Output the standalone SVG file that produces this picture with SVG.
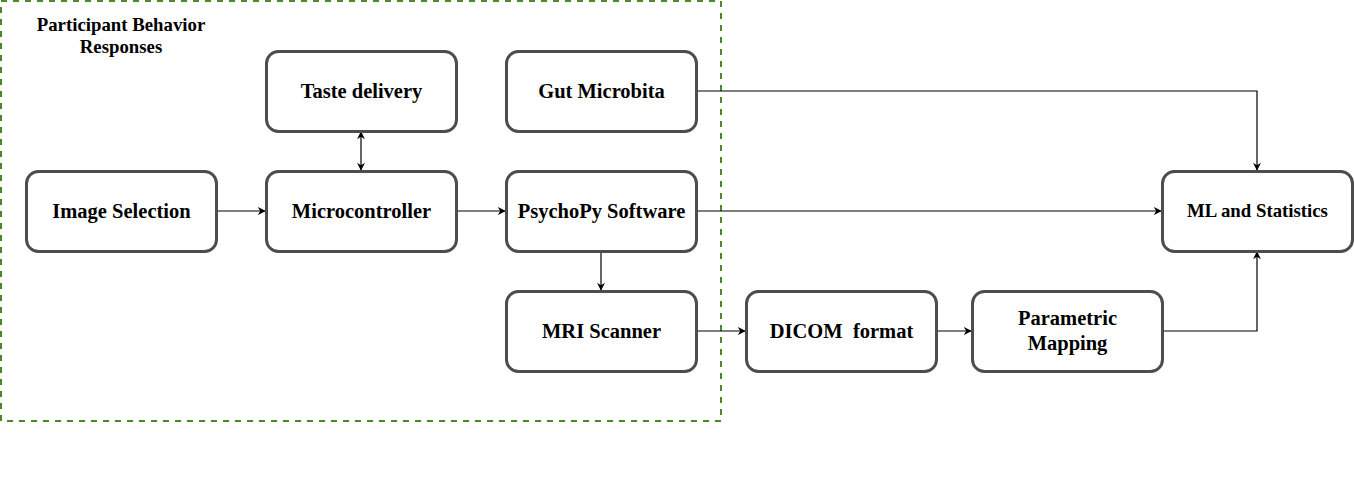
<svg xmlns="http://www.w3.org/2000/svg" width="1354" height="480" viewBox="0 0 1354 480">
<defs>
<style>
.box{fill:#ffffff;stroke:#4d4d4d;stroke-width:3}
.lbl{font-family:"Liberation Serif","Times New Roman",serif;font-weight:bold;font-size:20.5px;fill:#000;text-anchor:middle}
.sm{font-size:18.8px}
.ttl{font-size:18.8px}
.edge{fill:none;stroke:#000;stroke-width:1.2}
</style>
<marker id="arr" viewBox="0 0 10 10" refX="9" refY="5" markerWidth="8" markerHeight="8" markerUnits="userSpaceOnUse" orient="auto-start-reverse">
<path d="M0,0 L10,5 L0,10 L3,5 Z" fill="#000"/>
</marker>
</defs>
<rect width="1354" height="480" fill="#ffffff"/>
<g id="group-participant">
<rect x="1" y="1" width="720" height="420" fill="none" stroke="#4a8a26" stroke-width="2" stroke-dasharray="6 6"/>
<text class="lbl ttl" x="121" y="31">Participant Behavior</text>
<text class="lbl ttl" x="121" y="53">Responses</text>
</g>
<g id="connectors">
<path class="edge" d="M216,211 H265" marker-end="url(#arr)"/>
<path class="edge" d="M456,211 H505" marker-end="url(#arr)"/>
<path class="edge" d="M361,132 V170" marker-start="url(#arr)" marker-end="url(#arr)"/>
<path class="edge" d="M601,251 V290" marker-end="url(#arr)"/>
<path class="edge" d="M696,211 H1161" marker-end="url(#arr)"/>
<path class="edge" d="M696,91 H1257 V170" marker-end="url(#arr)"/>
<path class="edge" d="M696,331 H745" marker-end="url(#arr)"/>
<path class="edge" d="M936,331 H971" marker-end="url(#arr)"/>
<path class="edge" d="M1162,331 H1257 V252" marker-end="url(#arr)"/>
</g>
<g id="taste-delivery">
<rect class="box" x="266.5" y="51.5" width="190" height="80" rx="12"/>
<text class="lbl" x="361.5" y="98">Taste delivery</text>
</g>
<g id="gut-microbita">
<rect class="box" x="506.5" y="51.5" width="190" height="80" rx="12"/>
<text class="lbl" x="601.5" y="98">Gut Microbita</text>
</g>
<g id="image-selection">
<rect class="box" x="26.5" y="171.5" width="190" height="80" rx="12"/>
<text class="lbl" x="121.5" y="218">Image Selection</text>
</g>
<g id="microcontroller">
<rect class="box" x="266.5" y="171.5" width="190" height="80" rx="12"/>
<text class="lbl" x="361.5" y="218">Microcontroller</text>
</g>
<g id="psychopy-software">
<rect class="box" x="506.5" y="171.5" width="190" height="80" rx="12"/>
<text class="lbl" x="601.5" y="218">PsychoPy Software</text>
</g>
<g id="mri-scanner">
<rect class="box" x="506.5" y="291.5" width="190" height="80" rx="12"/>
<text class="lbl" x="601.5" y="338">MRI Scanner</text>
</g>
<g id="dicom-format">
<rect class="box" x="746.5" y="291.5" width="190" height="80" rx="12"/>
<text class="lbl" x="841.5" y="338" xml:space="preserve">DICOM  format</text>
</g>
<g id="parametric-mapping">
<rect class="box" x="972.5" y="291.5" width="190" height="80" rx="12"/>
<text class="lbl" x="1067.5" y="325">Parametric</text>
<text class="lbl" x="1067.5" y="350">Mapping</text>
</g>
<g id="ml-statistics">
<rect class="box" x="1162.5" y="171.5" width="190" height="80" rx="12"/>
<text class="lbl sm" x="1257.5" y="217">ML and Statistics</text>
</g>
</svg>
